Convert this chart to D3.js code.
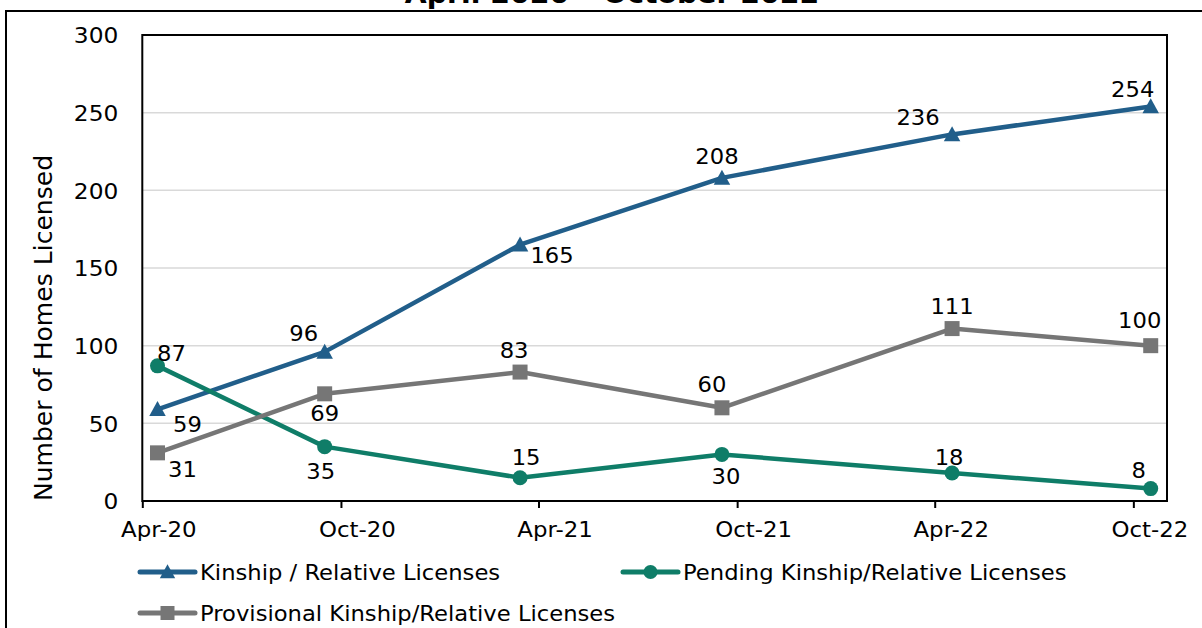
<!DOCTYPE html>
<html>
<head>
<meta charset="utf-8">
<script src="https://cdn.jsdelivr.net/npm/d3@7"></script>
<style>
  html, body { margin: 0; padding: 0; background: #fff; }
  svg { display: block; font-family: "DejaVu Sans", sans-serif; }
</style>
</head>
<body>
<svg id="chart" width="1202" height="628"></svg>
<script>
// ---- data ----
const title = "April 2020 – October 2022";
const yTitle = "Number of Homes Licensed";
const pointDates = ["2020-04-15", "2020-09-16", "2021-03-15", "2021-09-17", "2022-04-17", "2022-10-17"];
const tickDates = ["2020-04-01", "2020-10-01", "2021-04-01", "2021-10-01", "2022-04-01", "2022-10-01"];
const tickLabels = ["Apr-20", "Oct-20", "Apr-21", "Oct-21", "Apr-22", "Oct-22"];
const yTicks = [0, 50, 100, 150, 200, 250, 300];
const seriesNames = ["Kinship / Relative Licenses", "Pending Kinship/Relative Licenses", "Provisional Kinship/Relative Licenses"];
const kinship = [59, 96, 165, 208, 236, 254];
const pending = [87, 35, 15, 30, 18, 8];
const provisional = [31, 69, 83, 60, 111, 100];

// ---- styling / layout ----
const colors = ["#215e8a", "#0f7d68", "#767676"];
const markers = ["triangle", "circle", "square"];
// label offsets (dx, dy from point to label centre)
const labelOffsets = [
  [[30, 15], [-21, -19], [32, 10], [-5, -22], [-34, -17.5], [-18, -17.5]],
  [[14, -13], [-4, 24], [6, -21], [4, 22], [-3, -16], [-12, -19]],
  [[25, 16], [0, 19], [-6, -22], [-10, -24], [0, -23], [-11, -26]]
];
const TX = 1.04; // horizontal text stretch

const parse = d3.timeParse("%Y-%m-%d");
const svg = d3.select("#chart");
const pLeft = 142.3, pRight = 1167, pTop = 35, pBottom = 501;

const x = d3.scaleTime()
  .domain([parse("2020-04-01"), parse("2022-11-01")])
  .range([pLeft, pRight]);
const y = d3.scaleLinear().domain([0, 300]).range([pBottom, pTop]);

function addText(parent, px, py, str, size, anchor, sx, weight) {
  return parent.append("text")
    .attr("transform", `translate(${px},${py}) scale(${sx},1)`)
    .attr("text-anchor", anchor)
    .attr("font-size", size)
    .attr("font-weight", weight || "normal")
    .attr("fill", "#000")
    .text(str);
}

// outer frame
svg.append("rect").attr("x", 6).attr("y", 11).attr("width", 1250).attr("height", 700)
  .attr("fill", "none").attr("stroke", "#000").attr("stroke-width", 2);

// title (partially cut off at top)
addText(svg, 612, 3, title, 27, "middle", 1.05, "bold");

// gridlines
svg.append("g").selectAll("line").data(yTicks.filter(d => d > 0 && d < 300)).join("line")
  .attr("x1", pLeft).attr("x2", pRight)
  .attr("y1", d => y(d)).attr("y2", d => y(d))
  .attr("stroke", "#d9d9d9").attr("stroke-width", 1.5);

// y axis labels
const yAxis = svg.append("g").attr("transform", `translate(${pLeft},0)`)
  .call(d3.axisLeft(y).tickValues(yTicks).tickSize(0));
yAxis.select(".domain").remove();
yAxis.selectAll("text")
  .attr("x", null).attr("dy", "0.36em")
  .attr("transform", "translate(-24,0) scale(1.06,1)")
  .attr("font-size", 22).attr("font-family", "DejaVu Sans").attr("fill", "#000");

// x axis
const xAxis = svg.append("g").attr("transform", `translate(0,${pBottom})`)
  .call(d3.axisBottom(x).tickValues(tickDates.map(parse)).tickSize(7)
    .tickFormat((d, i) => tickLabels[i]));
xAxis.select(".domain").remove();
xAxis.selectAll("line").attr("stroke", "#000").attr("stroke-width", 2);
xAxis.selectAll("text")
  .attr("y", null).attr("dy", null)
  .attr("transform", "translate(16,36) scale(" + TX + ",1)")
  .attr("font-size", 22).attr("font-family", "DejaVu Sans").attr("fill", "#000");

// plot frame
svg.append("rect").attr("x", pLeft).attr("y", pTop).attr("width", pRight - pLeft).attr("height", pBottom - pTop)
  .attr("fill", "none").attr("stroke", "#000").attr("stroke-width", 2);

// y title
svg.append("text")
  .attr("transform", `translate(52,328) rotate(-90) scale(1.045,1)`)
  .attr("text-anchor", "middle").attr("font-size", 24).attr("fill", "#000")
  .text(yTitle);

function drawMarker(g, type, cx, cy, color, s) {
  if (type === "triangle") {
    g.append("path").attr("d", `M${cx},${cy - s * 0.55} L${cx + s * 0.55},${cy + s * 0.45} L${cx - s * 0.55},${cy + s * 0.45} Z`).attr("fill", color);
  } else if (type === "circle") {
    g.append("circle").attr("cx", cx).attr("cy", cy).attr("r", s / 2).attr("fill", color);
  } else {
    g.append("rect").attr("x", cx - s / 2).attr("y", cy - s / 2).attr("width", s).attr("height", s).attr("fill", color);
  }
}

const allSeries = [kinship, pending, provisional];
const line = d3.line().x(d => x(d.date)).y(d => y(d.v));
allSeries.forEach((vals, si) => {
  const pts = vals.map((v, i) => ({ date: parse(pointDates[i]), v }));
  const g = svg.append("g");
  g.append("path").datum(pts).attr("d", line).attr("fill", "none")
    .attr("stroke", colors[si]).attr("stroke-width", 4.5).attr("stroke-linejoin", "round");
  pts.forEach(p => drawMarker(g, markers[si], x(p.date), y(p.v), colors[si], 15));
});
// data labels
allSeries.forEach((vals, si) => {
  vals.forEach((v, i) => {
    const px = x(parse(pointDates[i])), py = y(v);
    const [dx, dy] = labelOffsets[si][i];
    addText(svg, px + dx, py + dy + 8, String(v), 22, "middle", 1.03);
  });
});

// legend
const legendPos = [[140, 572], [623, 572], [140, 613]];
seriesNames.forEach((name, si) => {
  const [lx, ly] = legendPos[si];
  const g = svg.append("g");
  g.append("line").attr("x1", lx).attr("x2", lx + 55).attr("y1", ly).attr("y2", ly)
    .attr("stroke", colors[si]).attr("stroke-width", 5).attr("stroke-linecap", "round");
  drawMarker(g, markers[si], lx + 27.5, ly, colors[si], 14);
  addText(svg, lx + 60, ly + 8, name, 22, "start", 1.03);
});
</script>
</body>
</html>
